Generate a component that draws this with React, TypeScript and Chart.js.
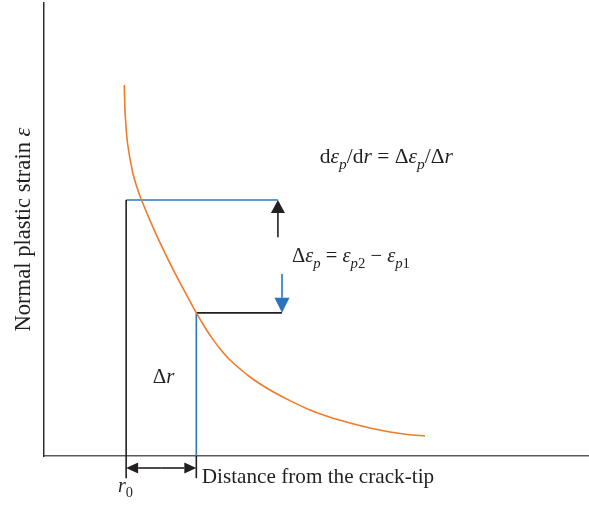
import { useEffect, useRef } from 'react';
import { Chart, registerables } from 'chart.js';

Chart.register(...registerables);

// Plastic strain profile ahead of the crack tip (arbitrary units, 0..100 on both axes)
const curveDistance = [
  14.76, 14.82, 14.92, 15.34, 16.26, 16.98, 17.92, 20.45, 22.98, 25.51, 28.0, 29.57, 31.11,
  32.65, 34.19, 37.87, 41.54, 45.22, 48.9, 52.57, 56.25, 59.93, 63.6, 66.82, 70.04,
];
const curveStrain = [
  81.9, 78.72, 75.55, 69.21, 62.86, 59.69, 56.51, 49.37, 42.98, 37.11, 31.6, 28.42, 25.64,
  23.23, 21.19, 17.44, 14.57, 12.22, 10.15, 8.55, 7.28, 6.18, 5.3, 4.75, 4.42,
];

// Two sampling positions and their strain levels
const r0 = 15.1;
const r1 = 28.0;
const strain1 = 56.5;
const strain2 = 31.6;
const tickDrop = -4.9;
const spanArrowY = -2.65;
const upArrow = { x: 43.0, from: 48.3, to: strain1 };
const downArrow = { x: 43.75, from: 40.2, to: strain2 };

const ORANGE = '#f27a2a';
const BLUE = '#2a74c2';
const INK = '#231f20';
const FONT = '"Liberation Serif", "Times New Roman", serif';

type Part = { t: string; i?: boolean; sub?: boolean };

const formulaRate: Part[] = [
  { t: 'd' }, { t: 'ε', i: true }, { t: 'p', i: true, sub: true }, { t: '/d' }, { t: 'r', i: true },
  { t: ' = Δ' }, { t: 'ε', i: true }, { t: 'p', i: true, sub: true }, { t: '/Δ' }, { t: 'r', i: true },
];
const formulaDelta: Part[] = [
  { t: 'Δ' }, { t: 'ε', i: true }, { t: 'p', i: true, sub: true }, { t: ' = ' },
  { t: 'ε', i: true }, { t: 'p', i: true, sub: true }, { t: '2', sub: true }, { t: ' − ' },
  { t: 'ε', i: true }, { t: 'p', i: true, sub: true }, { t: '1', sub: true },
];
const labelDr: Part[] = [{ t: 'Δ' }, { t: 'r', i: true }];
const labelR0: Part[] = [{ t: 'r', i: true }, { t: '0', sub: true }];
const labelX: Part[] = [{ t: 'Distance from the crack-tip' }];
const labelY: Part[] = [{ t: 'Normal plastic strain ' }, { t: 'ε', i: true }];

// Text placed at data positions: left edge and baseline
const notes = [
  { parts: formulaRate, x: 50.7, y: 64.7, size: 21.5 },
  { parts: formulaDelta, x: 45.6, y: 42.8, size: 20.5 },
  { parts: labelDr, x: 20.0, y: 16.1, size: 21 },
  { parts: labelR0, x: 13.6, y: -7.9, size: 20 },
  { parts: labelX, x: 29.0, y: -5.96, size: 21.2 },
];

function partFont(p: Part, size: number) {
  const s = p.sub ? size * 0.72 : size;
  return `${p.i ? 'italic ' : ''}${s}px ${FONT}`;
}

function richWidth(ctx: CanvasRenderingContext2D, parts: Part[], size: number) {
  let w = 0;
  for (const p of parts) {
    ctx.font = partFont(p, size);
    w += ctx.measureText(p.t).width;
  }
  return w;
}

function drawRich(ctx: CanvasRenderingContext2D, parts: Part[], x: number, y: number, size: number) {
  let cx = x;
  for (const p of parts) {
    ctx.font = partFont(p, size);
    ctx.fillText(p.t, cx, y + (p.sub ? size * 0.28 : 0));
    cx += ctx.measureText(p.t).width;
  }
}

function arrowHead(ctx: CanvasRenderingContext2D, fx: number, fy: number, tx: number, ty: number, len: number, half: number) {
  const a = Math.atan2(ty - fy, tx - fx);
  const bx = tx - Math.cos(a) * len;
  const by = ty - Math.sin(a) * len;
  ctx.beginPath();
  ctx.moveTo(tx, ty);
  ctx.lineTo(bx + Math.sin(a) * half, by - Math.cos(a) * half);
  ctx.lineTo(bx - Math.sin(a) * half, by + Math.cos(a) * half);
  ctx.closePath();
  ctx.fill();
  return [bx, by];
}

function arrow(ctx: CanvasRenderingContext2D, fx: number, fy: number, tx: number, ty: number, color: string, len: number, half: number) {
  ctx.fillStyle = color;
  ctx.strokeStyle = color;
  const [bx, by] = arrowHead(ctx, fx, fy, tx, ty, len, half);
  ctx.beginPath();
  ctx.moveTo(fx, fy);
  ctx.lineTo(bx, by);
  ctx.stroke();
}

const notesPlugin = {
  id: 'strainNotes',
  afterDatasetsDraw(chart: any) {
    const { ctx, scales } = chart;
    const xs = scales.x;
    const ys = scales.y;
    ctx.save();
    ctx.lineWidth = 1.6;

    arrow(ctx, xs.getPixelForValue(upArrow.x), ys.getPixelForValue(upArrow.from),
      xs.getPixelForValue(upArrow.x), ys.getPixelForValue(upArrow.to), INK, 13, 7);
    arrow(ctx, xs.getPixelForValue(downArrow.x), ys.getPixelForValue(downArrow.from),
      xs.getPixelForValue(downArrow.x), ys.getPixelForValue(downArrow.to), BLUE, 15, 7.5);

    // Δr span arrow between the two positions
    const sy = ys.getPixelForValue(spanArrowY);
    const sx0 = xs.getPixelForValue(r0);
    const sx1 = xs.getPixelForValue(r1);
    const mid = (sx0 + sx1) / 2;
    arrow(ctx, mid, sy, sx0, sy, INK, 12, 5.5);
    arrow(ctx, mid, sy, sx1, sy, INK, 12, 5.5);

    ctx.fillStyle = INK;
    ctx.textBaseline = 'alphabetic';
    ctx.textAlign = 'left';
    for (const n of notes) {
      drawRich(ctx, n.parts, xs.getPixelForValue(n.x), ys.getPixelForValue(n.y), n.size);
    }

    // Vertical axis title
    const size = 22.6;
    const w = richWidth(ctx, labelY, size);
    ctx.translate(30, (ys.top + ys.bottom) / 2);
    ctx.rotate(-Math.PI / 2);
    drawRich(ctx, labelY, -w / 2, 0, size);
    ctx.restore();
  },
};

function seg(x0: number, y0: number, x1: number, y1: number, color: string) {
  return {
    data: [{ x: x0, y: y0 }, { x: x1, y: y1 }],
    borderColor: color,
    borderWidth: 1.6,
    showLine: true,
    pointRadius: 0,
    clip: false as const,
  };
}

export default function App() {
  const ref = useRef<HTMLCanvasElement>(null);

  useEffect(() => {
    document.body.style.margin = '0';
    const canvas = ref.current;
    if (!canvas) return;
    const chart = new Chart(canvas, {
      type: 'scatter',
      data: {
        datasets: [
          {
            data: curveDistance.map((d, i) => ({ x: d, y: curveStrain[i] })),
            borderColor: ORANGE,
            borderWidth: 1.6,
            showLine: true,
            pointRadius: 0,
            tension: 0.3,
            clip: false,
          },
          seg(r0, tickDrop, r0, strain1, INK),
          seg(r0, strain1, upArrow.x, strain1, BLUE),
          seg(r1, 0, r1, strain2, BLUE),
          seg(r1, tickDrop, r1, 0, INK),
          seg(r1, strain2, downArrow.x, strain2, INK),
        ] as any,
      },
      options: {
        animation: false,
        responsive: false,
        events: [],
        layout: { padding: { left: 44, right: 1, top: 3, bottom: 50 } },
        plugins: { legend: { display: false }, tooltip: { enabled: false } },
        scales: {
          x: {
            type: 'linear',
            min: 0,
            max: 100,
            grid: { display: false, drawTicks: false },
            border: { display: true, color: '#5a5a5a', width: 1.5 },
            ticks: { display: false },
          },
          y: {
            type: 'linear',
            min: 0,
            max: 100,
            grid: { display: false, drawTicks: false },
            border: { display: true, color: '#2e2e2e', width: 1.5 },
            ticks: { display: false },
          },
        },
      },
      plugins: [notesPlugin],
    });
    return () => chart.destroy();
  }, []);

  return (
    <div style={{ width: 589, height: 506 }}>
      <canvas ref={ref} width={589} height={506} style={{ display: 'block', width: 589, height: 506 }} />
    </div>
  );
}
